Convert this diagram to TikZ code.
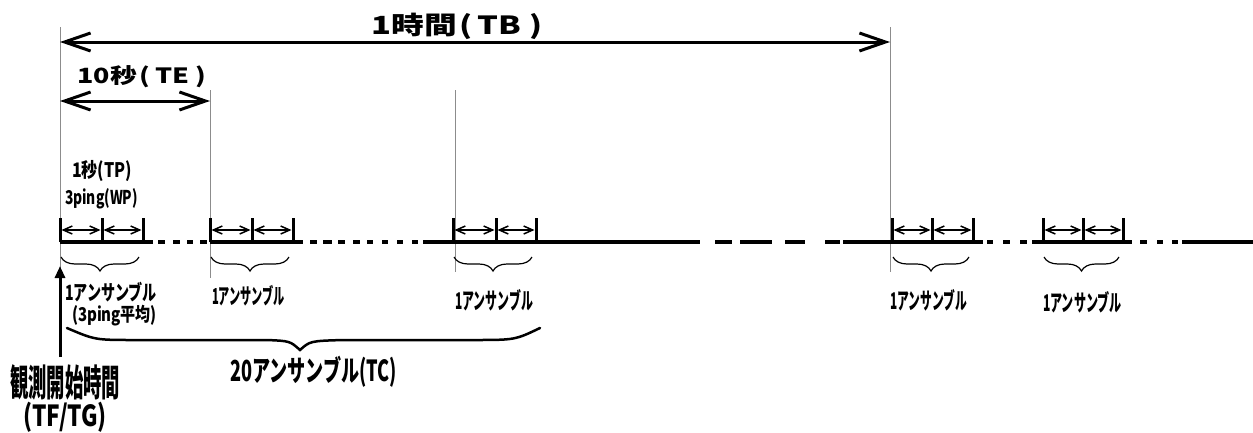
\documentclass[tikz,border=0pt]{standalone}
\usepackage{fontspec}
\usepackage{graphicx}
\setmainfont{Noto Sans CJK JP}
\usetikzlibrary{arrows.meta,decorations.pathreplacing}
\newsavebox\fitbox
\newcommand\fitw[3]{\sbox\fitbox{\fontsize{#2}{#2}\selectfont #3}\pgfmathsetmacro\fitratio{#1/\the\wd\fitbox}\scalebox{\fitratio}[1]{\usebox\fitbox}}
\tikzset{
  guide/.style={black!45, line width=1pt},
  axisln/.style={line width=4.5pt},
  tickln/.style={line width=3pt},
  bigarr/.style={line width=3pt, {Straight Barb[length=26pt,width=18pt]}-{Straight Barb[length=26pt,width=18pt]}},
  smallarr/.style={line width=1.5pt, {Straight Barb[length=9pt,width=8pt]}-{Straight Barb[length=9pt,width=8pt]}},
  smallbrace/.style={decorate, decoration={brace,mirror,amplitude=14pt}, line width=1.2pt},
  lbl/.style={inner sep=0pt, anchor=center},
}
\begin{document}
\begin{tikzpicture}[x=1pt,y=-1pt]
\useasboundingbox (0,0) rectangle (1253,432);
% guide lines
\coordinate (g1t) at (60,27);   \coordinate (g1b) at (60,330);
\coordinate (g2t) at (210,90);  \coordinate (g2b) at (210,278);
\coordinate (g3t) at (455,90);  \coordinate (g3b) at (455,272);
\coordinate (g4t) at (890,27);  \coordinate (g4b) at (890,272);
\draw[guide] (g1t) -- (g1b);
\draw[guide] (g2t) -- (g2b);
\draw[guide] (g3t) -- (g3b);
\draw[guide] (g4t) -- (g4b);
% top arrows
\coordinate (tbl) at (60,42); \coordinate (tbr) at (890,42);
\draw[bigarr] (tbl) -- (tbr);
\node[lbl] (tb) at (457,26) {\fitw{171}{25}{\bfseries 1時間\kern2pt(\kern4pt TB\kern6pt)}};
\coordinate (tel) at (60,101); \coordinate (ter) at (210,101);
\draw[bigarr] (tel) -- (ter);
\node[lbl] (te) at (142,77) {\fitw{129}{21}{\bfseries 10秒\kern2pt(\kern4pt TE\kern5pt)}};
% main time axis
\foreach \p/\q in {60/153,158/165,173/180,187/193,200/207,210/303,310/317,323/332,338/345,353/360,367/373,382/388,397/403,412/418,423/700,715/732,740/772,785/805,825/840,843/983,987/993,1003/1010,1020/1027,1032/1132,1140/1147,1157/1163,1172/1178,1182/1253}
  {\coordinate (s\p) at (\p,242); \coordinate (e\p) at (\q,242); \draw[axisln] (s\p) -- (e\p);}
% ensembles
\foreach \a/\b/\c/\n in {60/102/143/1,210/252/293/2,453/496/536/3,892/932/973/4,1043/1083/1123/5}{
  \coordinate (en\n a) at (\a,242); \coordinate (en\n b) at (\b,242); \coordinate (en\n c) at (\c,242);
  \draw[tickln] (en\n a) -- ++(0,-24);
  \draw[tickln] (en\n b) -- ++(0,-24);
  \draw[tickln] (en\n c) -- ++(0,-24);
  \draw[smallarr] ([xshift=1.5pt,yshift=12pt]en\n a) -- ([xshift=-1.5pt,yshift=12pt]en\n b);
  \draw[smallarr] ([xshift=1.5pt,yshift=12pt]en\n b) -- ([xshift=-1.5pt,yshift=12pt]en\n c);
  \draw[smallbrace] ([xshift=1pt,yshift=-15pt]en\n a) -- ([xshift=-4pt,yshift=-15pt]en\n c);
}
% labels
\node[lbl] (tp) at (102,171) {\fitw{60}{20}{\bfseries 1秒(TP)}};
\node[lbl] (wp) at (101.5,199) {\fitw{73}{19}{\bfseries 3ping(WP)}};
\node[lbl] (l1) at (111,292) {\fitw{92}{21}{\bfseries 1アンサンブル}};
\node[lbl] (l1b) at (114.5,316) {\fitw{85}{19}{\bfseries (3ping平均)}};
\node[lbl] (l2) at (248.5,296) {\fitw{73}{22}{\bfseries 1アンサンブル}};
\node[lbl] (l3) at (494,300) {\fitw{78}{23}{\bfseries 1アンサンブル}};
\node[lbl] (l4) at (928.5,300) {\fitw{77}{23}{\bfseries 1アンサンブル}};
\node[lbl] (l5) at (1082.5,302) {\fitw{79}{23}{\bfseries 1アンサンブル}};
% big brace
\draw[line width=2.5pt, line cap=round] (67,328) .. controls (95,340) .. (135,340) -- (267,340)
  .. controls (290,341) .. (300,350) .. controls (310,341) .. (343,340) -- (473,340)
  .. controls (515,340) .. (540,328);
\node[lbl] (tc) at (313.5,372) {\fitw{167}{29}{\bfseries 20アンサンブル(TC)}};
% start arrow
\coordinate (st0) at (60,357); \coordinate (st1) at (60,266);
\draw[line width=3pt,-{Triangle[length=12pt,width=10pt]}] (st0) -- (st1);
\node[lbl] (obs) at (65,382) {\fitw{110}{37}{\bfseries 観測開始時間}};
\node[lbl] (tf) at (65,417) {\fitw{84}{29}{\bfseries (TF/TG)}};
\end{tikzpicture}
\end{document}
